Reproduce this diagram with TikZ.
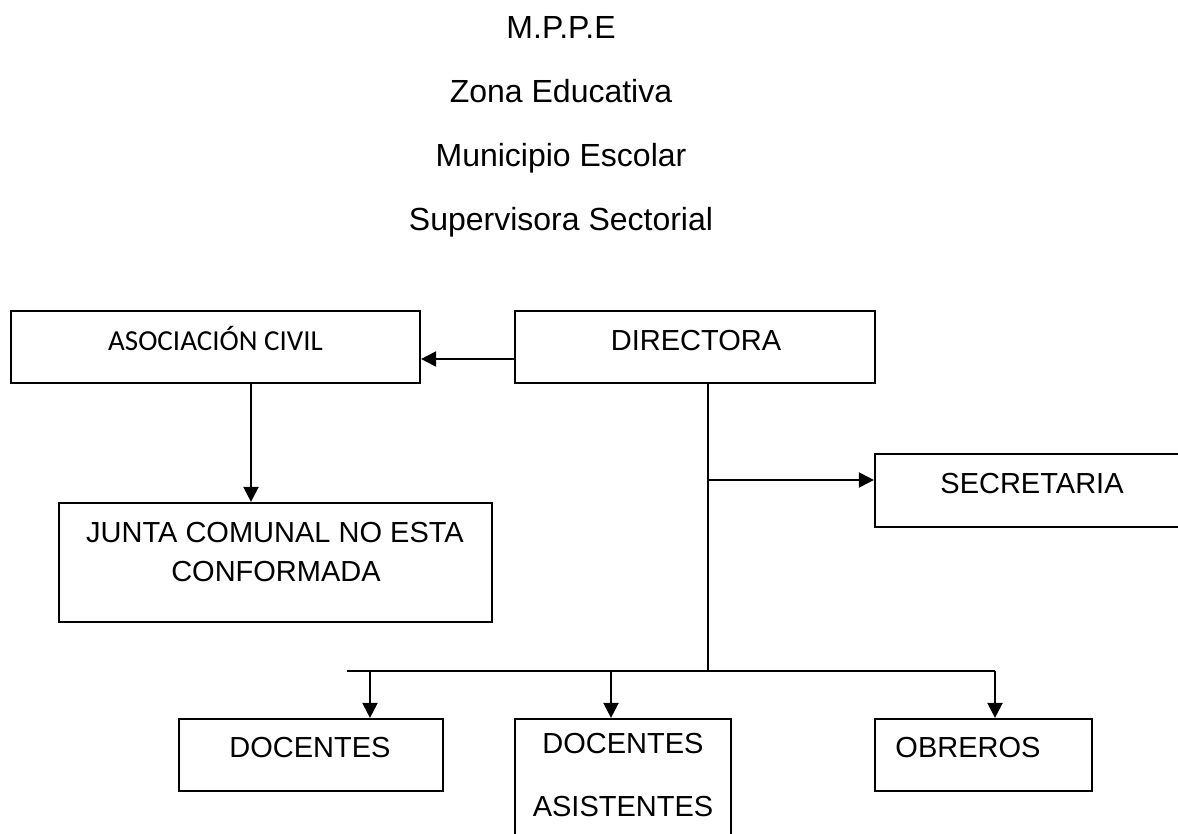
\documentclass[tikz,border=0pt]{standalone}
\usepackage{fontspec}
\setmainfont{Liberation Sans}
\newfontfamily\calibri{Carlito}
\usetikzlibrary{arrows.meta}
\begin{document}
\begin{tikzpicture}[x=1pt,y=-1pt,
  box/.style={draw, line width=2.2pt, inner sep=0pt},
  lbl/.style={anchor=base, inner sep=0pt, font=\fontsize{29}{35}\selectfont},
  head/.style={anchor=base, inner sep=0pt, font=\fontsize{32}{38}\selectfont},
  arr/.style={line width=2.2pt, -{Triangle[length=15pt,width=15pt]}},
  trunk/.style={line width=1.4pt},
  bar/.style={line width=2.4pt}]
\useasboundingbox (0,0) rectangle (1178,834);
\fill[white] (0,0) rectangle (1178,834);

% header
\node[head] (h1) at (561,39) {M.P.P.E};
\node[head] (h2) at (561,103) {Zona Educativa};
\node[head] (h3) at (561,167) {Municipio Escolar};
\node[head] (h4) at (561,231) {Supervisora Sectorial};

% boxes
\node[box, minimum width=409pt, minimum height=72pt] (asoc) at (215.5,347) {};
\node[box, minimum width=360pt, minimum height=72pt] (dir) at (695,347) {};
\node[box, minimum width=315pt, minimum height=73pt] (sec) at (1032.5,490.5) {};
\node[box, minimum width=433pt, minimum height=119pt] (junta) at (275.5,562.5) {};
\node[box, minimum width=264pt, minimum height=72pt] (doc) at (311,755) {};
\node[box, minimum width=216pt, minimum height=141pt] (doca) at (623,789.5) {};
\node[box, minimum width=217pt, minimum height=72pt] (obr) at (983.5,755) {};

% texts
\node[anchor=base, inner sep=0pt, font=\calibri\fontsize{29}{35}\selectfont] (tasoc) at (215.5,350) {ASOCIACIÓN CIVIL};
\node[lbl] (tdir) at (696,350) {DIRECTORA};
\node[lbl] (tsec) at (1032,493) {SECRETARIA};
\node[lbl] (tj1) at (275,542) {JUNTA COMUNAL NO ESTA};
\node[lbl] (tj2) at (276,581) {CONFORMADA};
\node[lbl] (tdoc) at (310,757) {DOCENTES};
\node[lbl] (tda1) at (623,753) {DOCENTES};
\node[lbl] (tda2) at (623,816) {ASISTENTES};
\node[lbl] (tobr) at (968,757) {OBREROS};

% connectors
\coordinate (ca) at (0,359);
\draw[arr] (dir.west |- ca) -- (asoc.east |- ca);
\coordinate (cj) at (251,0);
\draw[arr] (asoc.south -| cj) -- (junta.north -| cj);
\coordinate (tb) at (708,671);
\draw[trunk] (dir.south -| tb) -- (tb);
\coordinate (cs) at (708,480);
\draw[arr] (cs) -- (sec.west |- cs);
\coordinate (bl) at (347,671);
\coordinate (br) at (995,671);
\draw[bar] (bl) -- (br);
\coordinate (d1) at (370,671);
\coordinate (d2) at (611,671);
\draw[arr] (d1) -- (doc.north -| d1);
\draw[arr] (d2) -- (doca.north -| d2);
\draw[arr] (br) -- (obr.north -| br);
\end{tikzpicture}
\end{document}
